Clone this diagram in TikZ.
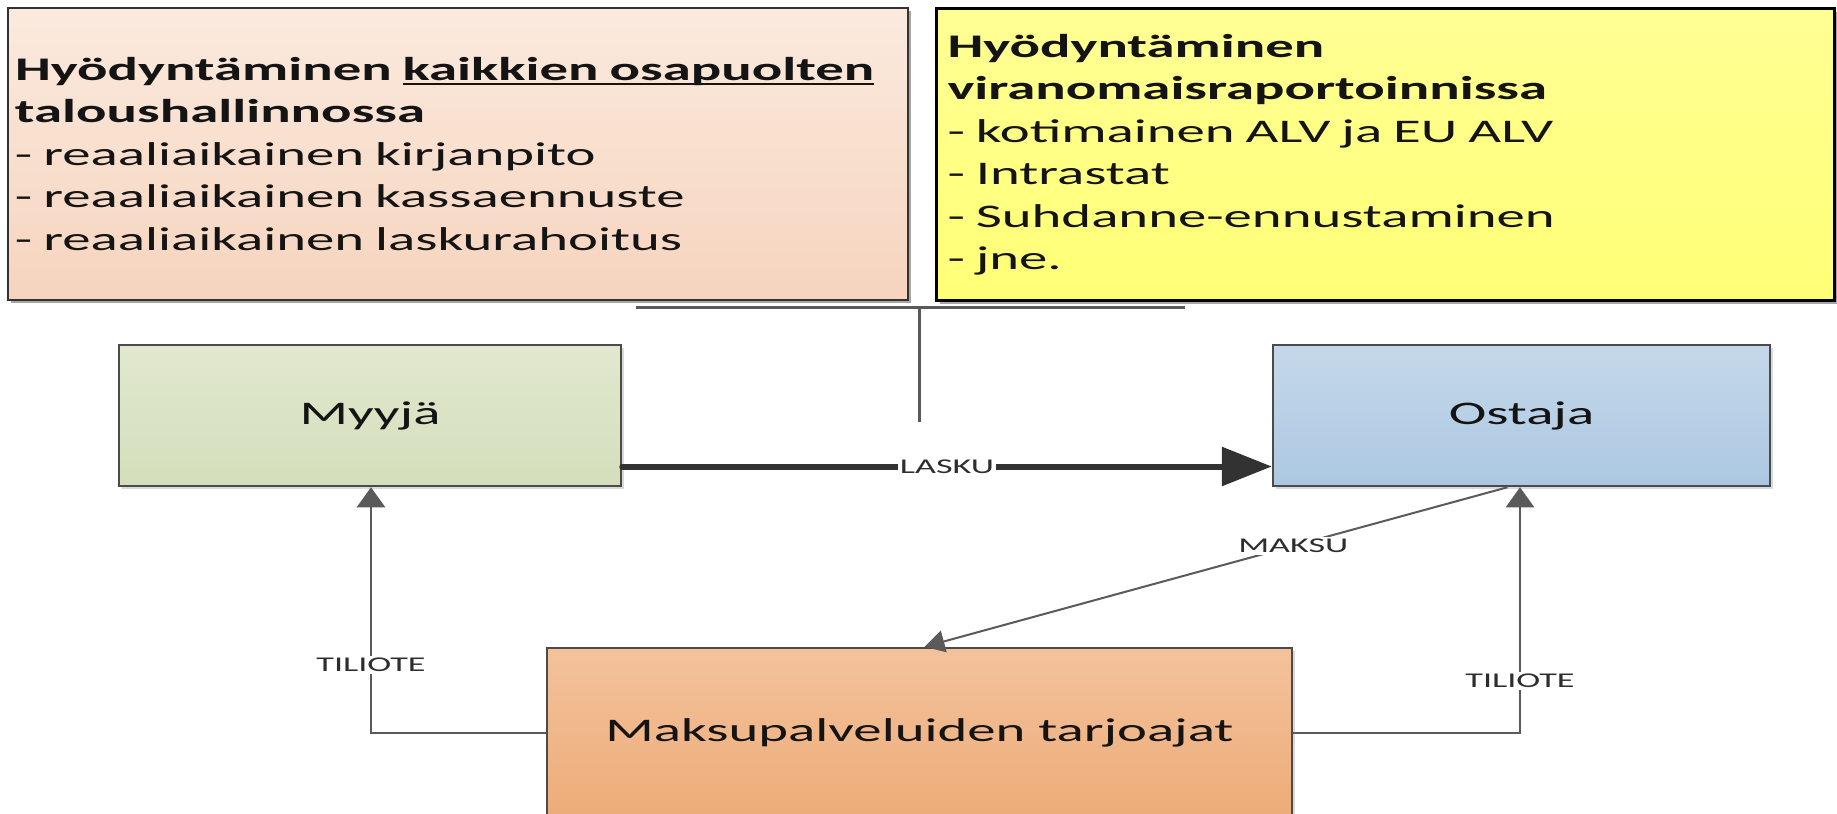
\documentclass[tikz,border=0pt]{standalone}
\usepackage{fontspec}
\setmainfont{Carlito}[FakeStretch=1.72]
\usetikzlibrary{arrows.meta,shadows}
\definecolor{peachT}{RGB}{251,234,222}
\definecolor{peachB}{RGB}{246,212,190}
\definecolor{yelT}{RGB}{255,255,148}
\definecolor{yelB}{RGB}{255,255,118}
\definecolor{greenT}{RGB}{225,232,207}
\definecolor{greenB}{RGB}{212,222,187}
\definecolor{blueT}{RGB}{197,216,234}
\definecolor{blueB}{RGB}{172,200,225}
\definecolor{oraT}{RGB}{243,194,156}
\definecolor{oraB}{RGB}{237,172,120}
\definecolor{edge}{RGB}{75,75,75}
\definecolor{linegray}{RGB}{90,90,90}
\definecolor{darkline}{RGB}{50,50,50}
\definecolor{txt}{RGB}{20,20,20}
\definecolor{lbltxt}{RGB}{45,45,45}
\newcommand\myul[1]{\setbox0\hbox{#1}\rlap{\rule[-5pt]{\wd0}{2pt}}\box0}
\begin{document}
\begin{tikzpicture}[x=1pt,y=-1pt,
  topbox/.style={rectangle, anchor=north west, align=left, text=txt,
    font=\fontsize{33}{42.5}\selectfont, minimum height=292,
    drop shadow={shadow xshift=3pt, shadow yshift=-3pt, opacity=0.35, fill=black}},
  proc/.style={rectangle, draw=edge, line width=2.5pt, inner sep=0pt, text=txt,
    font=\fontsize{33}{38}\selectfont,
    drop shadow={shadow xshift=3pt, shadow yshift=-3pt, opacity=0.15, fill=black}},
  conn/.style={draw=linegray, line width=2.5pt},
  arr/.style={-{Triangle[length=20pt,width=28pt]}},
  marr/.style={-{Triangle[length=20pt,width=22pt]}},
  lasku/.style={draw=darkline, line width=6pt, line cap=round, -{Triangle[length=50pt,width=38pt]}},
  lbl/.style={fill=white, inner sep=2pt, text=lbltxt, font=\fontsize{21}{21}\selectfont},
  brk/.style={draw=linegray, line width=3pt}
]
\useasboundingbox[fill=white] (0,0) rectangle (1837,814);

% top boxes
\node[topbox, top color=peachT, bottom color=peachB, draw=darkline, line width=2pt,
  inner xsep=7pt, text width=886pt] (hk) at (7,7)
  {\textbf{Hyödyntäminen \myul{kaikkien osapuolten}}\\
   \textbf{taloushallinnossa}\\
   - reaaliaikainen kirjanpito\\
   - reaaliaikainen kassaennuste\\
   - reaaliaikainen laskurahoitus};
\node[topbox, top color=yelT, bottom color=yelB, draw=black, line width=3pt,
  inner xsep=11pt, text width=876pt] (hv) at (935,7)
  {\textbf{Hyödyntäminen}\\
   \textbf{viranomaisraportoinnissa}\\
   - kotimainen ALV ja EU ALV\\
   - Intrastat\\
   - Suhdanne-ennustaminen\\
   - jne.};

% bracket
\coordinate (bl) at (636,307);
\coordinate (br) at (1185,307);
\coordinate (bt) at (919,307);
\coordinate (bb) at (919,422);
\draw[brk] (bl) -- (br);
\draw[brk] (bt) -- (bb);

% main nodes
\node[proc, top color=greenT, bottom color=greenB, minimum width=502, minimum height=141] (myyja) at (370,415.5) {Myyjä};
\node[proc, top color=blueT, bottom color=blueB, minimum width=497, minimum height=141] (ostaja) at (1521.5,415.5) {Ostaja};
\node[proc, top color=oraT, bottom color=oraB, minimum width=745, minimum height=170] (maksu) at (919.5,733) {Maksupalveluiden tarjoajat};

% connectors
\draw[lasku] ([yshift=-51pt]myyja.east) -- node[lbl]{LASKU} ([yshift=-51pt]ostaja.west);
\draw[conn, marr, line width=2pt] ([xshift=-14pt]ostaja.south) -- node[lbl, pos=0.3675]{MAKSU} ([xshift=5pt]maksu.north);
\draw[conn, arr] (maksu.west) -| node[lbl, pos=0.638]{TILIOTE} ([xshift=1pt]myyja.south);
\draw[conn, arr] (maksu.east) -| node[lbl, pos=0.606]{TILIOTE} ([xshift=-1.5pt]ostaja.south);
\end{tikzpicture}
\end{document}
